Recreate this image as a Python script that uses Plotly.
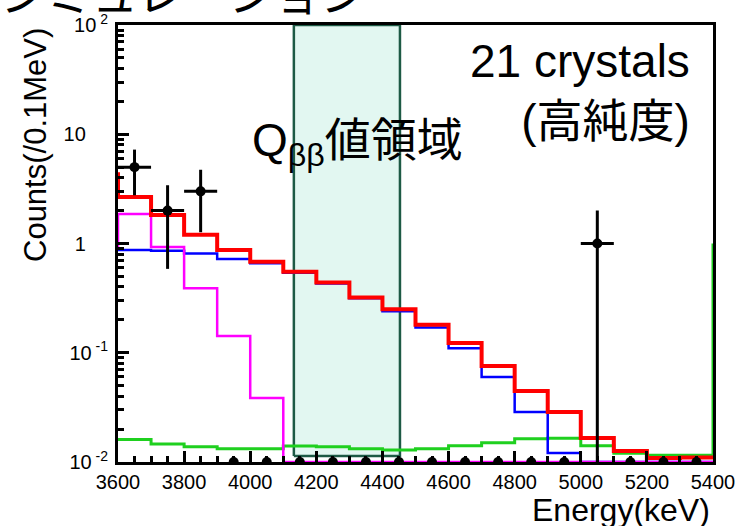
import plotly.graph_objects as go
from plotly.subplots import make_subplots

# ---------------- data ----------------
bin_edges = [3600 + 100 * i for i in range(19)]          # keV
bin_centers = [3650 + 100 * i for i in range(18)]

total_mc = [2.67, 1.82, 1.20, 0.87, 0.68, 0.55, 0.44, 0.32, 0.25, 0.18,
            0.123, 0.0757, 0.0447, 0.0287, 0.0166, 0.0126, 0.0109, 0.0110]
total_prev = 4.5

bkg_blue = [0.87, 0.86, 0.81, 0.72, 0.66, 0.54, 0.43, 0.316, 0.24, 0.17,
            0.110, 0.060, 0.0287, 0.0121, 0.0, 0.0, 0.0, 0.0]

bkg_magenta = [1.86, 0.93, 0.39, 0.142, 0.0386, 0, 0, 0, 0, 0,
               0, 0, 0, 0, 0, 0, 0, 0]
magenta_prev = 0.87

bkg_green = [0.0161, 0.0146, 0.0138, 0.0132, 0.0132, 0.0140, 0.0138, 0.0132, 0.0129, 0.0132,
             0.0141, 0.0150, 0.0163, 0.0165, 0.0141, 0.0120, 0.0115, 0.0115]
green_next = 1.0

data_counts = [5, 2, 3, 0, 0, 0, 0, 0, 0, 0, 0, 0, 0, 0, 1, 0, 0, 0]

q_region = [4132, 4453]
q_region_y = [0.01135, 100]

x_tick_vals = [3600 + 200 * i for i in range(10)]
y_tick_vals = [0.01, 0.1, 1, 10, 100]
NB = "\u00a0"
y_tick_text = ["10<sup>" + NB + "-2</sup>", "10<sup>" + NB + "-1</sup>",
               "1" + NB * 4, "10" + NB * 4, "10<sup>" + NB + "2</sup>"]

FONT = "Liberation Sans, Arial, Noto Sans CJK JP, sans-serif"
YMIN = 0.01


def step_xy(values, prev=None, nxt=None):
    xs, ys = [], []
    if prev is not None:
        xs.append(bin_edges[0]); ys.append(max(prev, YMIN))
    for e, v in zip(bin_edges[:-1], values):
        xs.append(e); ys.append(max(v, YMIN))
    xs.append(bin_edges[-1]); ys.append(max(values[-1], YMIN))
    if nxt is not None:
        xs.append(bin_edges[-1]); ys.append(max(nxt, YMIN))
    return xs, ys


fig = make_subplots(rows=1, cols=1)

# Q-value region (filled box)
fig.add_trace(go.Scatter(
    x=[q_region[0], q_region[1], q_region[1], q_region[0], q_region[0]],
    y=[q_region_y[0], q_region_y[0], q_region_y[1], q_region_y[1], q_region_y[0]],
    mode="lines", fill="toself", fillcolor="#e2f7f1",
    line=dict(color="#1d5a45", width=2.5), showlegend=False, hoverinfo="skip"))

gx, gy = step_xy(bkg_green, nxt=green_next)
fig.add_trace(go.Scatter(x=gx, y=gy, mode="lines", line_shape="hv",
                         line=dict(color="#1fd01f", width=3), showlegend=False))
bx, by = step_xy(bkg_blue)
fig.add_trace(go.Scatter(x=bx, y=by, mode="lines", line_shape="hv",
                         line=dict(color="#0000ff", width=2.5), showlegend=False))
mx, my = step_xy(bkg_magenta, prev=magenta_prev)
fig.add_trace(go.Scatter(x=mx, y=my, mode="lines", line_shape="hv",
                         line=dict(color="#ff00ff", width=2.5), showlegend=False))
rx, ry = step_xy(total_mc, prev=total_prev)
fig.add_trace(go.Scatter(x=rx, y=ry, mode="lines", line_shape="hv",
                         line=dict(color="#ff0000", width=4), showlegend=False))

# data points
dy = [max(c, YMIN) for c in data_counts]
err_up = [c ** 0.5 if c > 0 else 0 for c in data_counts]
err_dn = [(c ** 0.5 if c != 1 else 0.999) if c > 0 else 0 for c in data_counts]
err_x = [50 if c > 0 else 0 for c in data_counts]
fig.add_trace(go.Scatter(
    x=bin_centers, y=dy, mode="markers",
    marker=dict(color="black", size=10),
    error_y=dict(type="data", array=err_up, arrayminus=err_dn, symmetric=False,
                 color="black", thickness=3, width=0),
    error_x=dict(type="data", array=err_x, color="black", thickness=3, width=0),
    showlegend=False))

minor_y = [m * 10 ** p for p in range(-2, 2) for m in range(2, 10)]

fig.update_layout(
    width=741, height=526, autosize=False, showlegend=False,
    margin=dict(l=118, r=28, t=25, b=64),
    paper_bgcolor="white", plot_bgcolor="white",
    font=dict(family=FONT, color="black"),
)
fig.update_xaxes(range=[3600, 5400], tickmode="array", tickvals=x_tick_vals,
                 ticks="inside", ticklen=11, tickwidth=2.5, tickcolor="black",
                 showgrid=False, zeroline=False, showline=True, linewidth=3,
                 linecolor="black", mirror=True, automargin=False, layer="above traces",
                 tickfont=dict(size=20, family=FONT),
                 minor=dict(tick0=3600, dtick=50, ticks="inside", ticklen=6,
                            tickwidth=2.5, tickcolor="black"))
fig.update_yaxes(type="log", range=[-2, 2], tickmode="array", tickvals=y_tick_vals,
                 ticktext=y_tick_text, ticks="inside", ticklen=11, tickwidth=2.5,
                 tickcolor="black", showgrid=False, zeroline=False, showline=True,
                 linewidth=3, linecolor="black", mirror=True, automargin=False,
                 layer="above traces", tickfont=dict(size=20, family=FONT),
                 ticklabelstandoff=3,
                 minor=dict(tickmode="array", tickvals=minor_y, ticks="inside",
                            ticklen=6, tickwidth=2.5, tickcolor="black"))

# texts
fig.add_annotation(text="21 crystals<br>(高純度)", xref="paper", yref="paper",
                   x=(692 - 118) / 595, y=(462 - 33) / 437, xanchor="right", yanchor="top",
                   align="right", showarrow=False, font=dict(size=46, family=FONT))
fig.add_annotation(text="Q<sub>ββ</sub>値領域", xref="paper", yref="paper",
                   x=(250 - 118) / 595, y=(462 - 112) / 437, xanchor="left", yanchor="top",
                   showarrow=False, font=dict(size=46, family=FONT))
fig.add_annotation(text="Counts(/0.1MeV)", xref="paper", yref="paper",
                   x=(35 - 118) / 595, y=(462 - 145) / 437, textangle=-90,
                   xanchor="center", yanchor="middle", showarrow=False,
                   font=dict(size=31, family=FONT))
fig.add_annotation(text="Energy(keV)", xref="paper", yref="paper",
                   x=(712 - 118) / 595, y=(462 - 490) / 437, xanchor="right", yanchor="top",
                   showarrow=False, font=dict(size=32, family=FONT))
fig.add_annotation(text="シミュレーション", xref="paper", yref="paper",
                   x=(-2 - 118) / 595, y=(462 - 23) / 437, xanchor="left", yanchor="bottom",
                   showarrow=False, font=dict(size=46, family=FONT))

fig.write_html("out.html", config={"displayModeBar": False},
               post_script="document.body.style.margin='0';document.body.style.overflow='hidden';")
